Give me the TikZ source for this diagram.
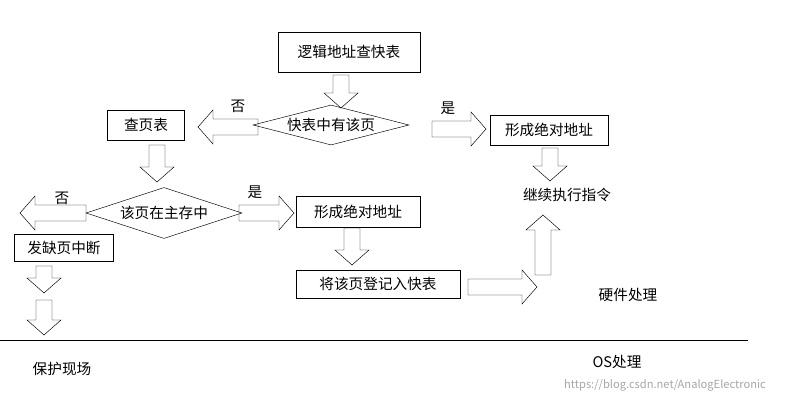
\documentclass[tikz,border=0pt]{standalone}
\usepackage{fontspec}
\setmainfont{Noto Sans CJK SC}
\usetikzlibrary{shapes.geometric}
\newcommand\barr[3]{\draw[shift={#1},rotate=#2] (0,-8)--(#3-15,-8)--(#3-15,-17)--(#3,0)--(#3-15,17)--(#3-15,8)--(0,8)--cycle;}
\begin{document}
\begin{tikzpicture}[x=0.03cm,y=-0.03cm,
  box/.style={draw,inner sep=2pt,font=\fontsize{12.5}{14}\selectfont},
  dia/.style={draw,diamond,aspect=5,inner sep=0pt,font=\fontsize{12.5}{14}\selectfont},
  lbl/.style={font=\fontsize{12.5}{14}\selectfont}]
\useasboundingbox (0,0) rectangle (798,404);
\node[box,minimum width=142*0.03cm,minimum height=40*0.03cm] (q) at (349,52) {逻辑地址查快表};
\node[dia,minimum width=138*0.03cm,minimum height=40*0.03cm] (d1) at (331,125) {快表中有该页};
\node[box,minimum width=77*0.03cm,minimum height=30*0.03cm] (pt) at (146,125) {查页表};
\node[box,minimum width=118*0.03cm,minimum height=30*0.03cm] (a1) at (549,130) {形成绝对地址};
\node[lbl] (go) at (567,195) {继续执行指令};
\node[dia,minimum width=152*0.03cm,minimum height=51*0.03cm] (d2) at (164,213) {该页在主存中};
\node[box,minimum width=124*0.03cm,minimum height=31*0.03cm] (a2) at (358,212) {形成绝对地址};
\node[box,minimum width=164*0.03cm,minimum height=28*0.03cm] (reg) at (378,284) {将该页登记入快表};
\node[box,minimum width=99*0.03cm,minimum height=27*0.03cm] (pf) at (64,248) {发缺页中断};
\node[lbl] (n1) at (238,106) {否};
\node[lbl] (y1) at (448,108) {是};
\node[lbl] (n2) at (62,198) {否};
\node[lbl] (y2) at (255,192) {是};
\node[lbl] (hw) at (628,295) {硬件处理};
\node[lbl] (os) at (617,362) {OS处理};
\node[lbl] (sv) at (62,369) {保护现场};
\node[font=\fontsize{9.5}{11}\selectfont,text=gray!70] (wm) at (665,385) {https://blog.csdn.net/AnalogElectronic};
\barr{(341,75)}{-90}{33}
\barr{(258,127)}{180}{60}
\barr{(432,129)}{0}{54}
\barr{(550,148)}{-90}{33}
\barr{(157,145)}{-90}{37}
\barr{(86,213)}{180}{66}
\barr{(239,213)}{0}{55}
\barr{(352,228)}{-90}{37}
\barr{(468,287)}{0}{69}
\barr{(543,275)}{90}{60}
\barr{(44,266)}{-90}{27}
\barr{(44,300)}{-90}{35}
\draw (0,340) -- (748,340);
\end{tikzpicture}
\end{document}
